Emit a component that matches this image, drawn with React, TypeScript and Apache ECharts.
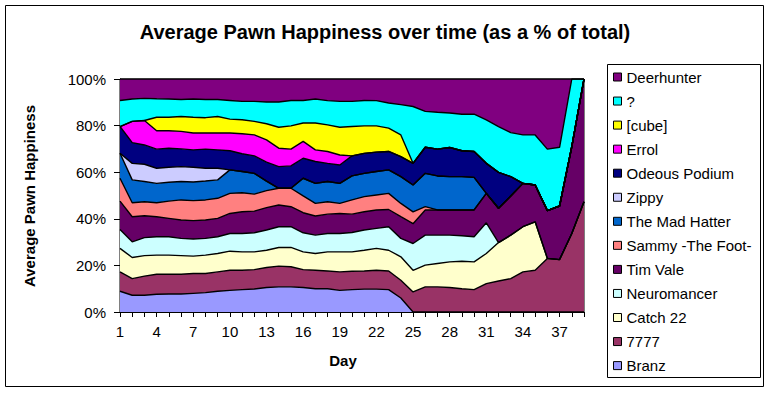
import React, { useEffect, useRef } from "react";
import * as echarts from "echarts";

const days = ["1","2","3","4","5","6","7","8","9","10","11","12","13","14","15","16","17","18","19","20","21","22","23","24","25","26","27","28","29","30","31","32","33","34","35","36","37","38","39"];

// Stacking order: bottom (Branz) to top (Deerhunter)
const seriesNames = ["Branz","7777","Catch 22","Neuromancer","Tim Vale","Sammy -The Foot-","The Mad Hatter","Zippy","Odeous Podium","Errol","[cube]","?","Deerhunter"];
const seriesColors = ["#9999FF","#993366","#FFFFCC","#CCFFFF","#660066","#FF8080","#0066CC","#CCCCFF","#000080","#FF00FF","#FFFF00","#00FFFF","#800080"];

const branz = [8.9,7.2,7.2,7.6,7.7,7.7,8.0,8.3,8.9,9.3,9.6,9.9,10.5,10.8,10.8,10.5,10.0,10.0,9.3,9.6,9.8,9.8,9.6,6.0,0,0,0,0,0,0,0,0,0,0,0,0,0,0,0];
const s7777 = [8.3,7.1,8.2,8.6,8.5,8.5,8.5,8.2,8.3,8.6,8.3,8.3,8.6,8.9,8.6,7.7,7.9,7.6,7.9,7.9,7.8,8.1,8.0,7.6,8.6,10.8,10.8,10.5,10.0,9.6,12.2,13.3,14.3,17.2,17.9,23.0,22.5,33.7,47.3];
const catch22 = [10.1,9.1,8.8,8.2,8.2,8.0,7.5,7.9,7.9,8.2,7.9,7.6,7.4,8.0,8.3,7.6,7.2,8.2,8.6,8.3,8.9,9.4,8.9,10.1,9.3,9.3,10.0,11.0,11.8,11.9,12.9,16.5,18.7,19.4,20.8,0,0,0,0];
const neuromancer = [8.1,6.7,7.7,7.9,7.9,7.4,7.3,7.2,7.2,7.6,7.9,8.2,8.7,8.9,8.9,8.2,7.9,7.9,7.9,8.3,8.7,8.6,10.1,7.9,11.5,12.9,12.2,11.5,10.9,10.8,13.2,0,0,0,0,0,0,0,0];
const timVale = [12.2,10.8,9.4,8.6,7.9,7.9,7.9,7.9,7.9,8.6,9.3,9.3,9.6,9.3,8.6,8.6,8.2,8.3,8.6,7.9,7.8,7.9,7.4,9.3,8.5,10.8,10.8,10.8,11.1,11.5,12.6,14.7,16.8,18.6,15.8,20.5,23.0,37.3,52.7];
const sammy = [9.8,6.0,6.0,6.0,7.4,8.6,8.6,8.6,8.6,8.6,8.2,7.3,7.3,7.2,7.9,7.2,5.4,5.3,4.3,6.1,6.5,6.4,6.9,5.7,5.1,1.4,0,0,0,0,0,0,0,0,0,0,0,0,0];
const madHatter = [10.7,9.8,8.7,8.3,8.1,7.9,8.0,8.1,7.9,10.1,9.1,8.9,4.1,0,0,7.6,8.6,8.7,8.6,10.3,10.0,10.1,10.1,11.5,11.5,14.3,14.6,14.3,14.3,14.0,0,0,0,0,0,0,0,0,0];
const zippy = [0,7.1,7.4,6.5,6.4,6.4,6.3,5.5,5.0,0,0,0,0,0,0,0,0,0,0,0,0,0,0,0,0,0,0,0,0,0,0,0,0,0,0,0,0,0,0];
const odeous = [11.5,8.9,8.3,8.2,8.2,7.6,7.5,8.2,7.9,8.2,7.6,7.5,8.1,9.3,9.6,8.6,9.4,7.8,7.9,8.6,8.6,8.3,7.9,8.6,9.3,11.2,11.5,12.5,11.1,11.1,12.9,15.4,8.3,0,0,0,0,0,0];
const errol = [0,9.1,10.5,7.9,7.5,7.5,7.2,6.9,7.2,7.6,8.6,9.0,9.6,7.9,7.2,7.2,5.0,5.1,4.3,0,0,0,0,0,0,0,0,0,0,0,0,0,0,0,0,0,0,0,0];
const cube = [0,0,0,5.8,5.8,6.4,6.8,6.6,7.1,6.0,6.0,5.8,6.9,9.0,10.0,7.9,11.5,11.4,11.9,12.6,11.8,11.3,10.0,9.3,0,0,0,0,0,0,0,0,0,0,0,0,0,0,0];
const question = [11.2,9.6,9.5,7.9,7.8,7.3,7.8,7.8,7.3,8.0,7.9,8.6,9.3,10.8,10.9,9.7,10.3,10.4,11.1,10.8,10.9,10.8,10.8,13.0,24.4,15.4,15.8,14.8,15.7,16.0,18.7,19.7,18.9,20.8,21.5,26.4,25.2,29.0,0];
const deerhunter = [9.2,8.6,8.3,8.5,8.6,8.8,8.6,8.8,8.8,9.2,9.6,9.6,9.9,9.9,9.2,9.2,8.6,9.3,9.6,9.6,9.2,9.3,10.3,11.0,11.8,13.9,14.3,14.6,15.1,15.1,17.5,20.4,23.0,24.0,24.0,30.1,29.3,0,0];

const seriesValues = [branz, s7777, catch22, neuromancer, timVale, sammy, madHatter, zippy, odeous, errol, cube, question, deerhunter];

const yTicks = [0, 20, 40, 60, 80, 100];

const FONT = "'Liberation Sans', Arial, sans-serif";

export default function App() {
  const ref = useRef<HTMLDivElement>(null);
  useEffect(() => {
    if (!ref.current) return;
    const chart = echarts.init(ref.current, null, { renderer: "svg" });
    const option: any = {
      animation: false,
      backgroundColor: "#ffffff",
      textStyle: { fontFamily: FONT },
      grid: {
        left: 120, right: 187, top: 79, bottom: 81,
        show: true, borderColor: "#000", borderWidth: 1, backgroundColor: "#fff",
      },
      xAxis: {
        type: "category",
        data: days,
        boundaryGap: false,
        axisLine: { show: true, lineStyle: { color: "#000", width: 1 } },
        axisTick: { show: true, interval: 0, length: 5, lineStyle: { color: "#000" } },
        axisLabel: { interval: 2, fontSize: 15, margin: 12, color: "#000", fontFamily: FONT },
        splitLine: { show: false },
      },
      yAxis: {
        type: "value",
        min: yTicks[0],
        max: yTicks[yTicks.length - 1],
        interval: 20,
        axisLine: { show: true, lineStyle: { color: "#000", width: 1 } },
        axisTick: { show: true, length: 6, lineStyle: { color: "#000" } },
        axisLabel: { formatter: "{value}%", fontSize: 15, margin: 14, color: "#000", fontFamily: FONT },
        splitLine: { show: false },
      },
      legend: {
        orient: "vertical",
        left: 613,
        top: 69,
        padding: 0,
        itemWidth: 8,
        itemHeight: 8,
        itemGap: 8.05,
        icon: "rect",
        selectedMode: false,
        data: seriesNames.slice().reverse(),
        itemStyle: { borderColor: "#000", borderWidth: 1 },
        textStyle: { fontSize: 15, lineHeight: 16, color: "#000", fontFamily: FONT },
      },
      graphic: [
        { type: "rect", shape: { x: 5.5, y: 5.5, width: 758, height: 381 }, style: { fill: "none", stroke: "#000", lineWidth: 1 }, z: 100 },
        { type: "rect", shape: { x: 607.5, y: 64.5, width: 153, height: 313 }, style: { fill: "none", stroke: "#000", lineWidth: 1 }, z: 100 },
        { type: "text", x: 385, y: 32, style: { text: "Average Pawn Happiness over time (as a % of total)", fontSize: 20, fontWeight: "bold", fontFamily: FONT, fill: "#000", align: "center", verticalAlign: "middle" } },
        { type: "text", x: 29, y: 196, rotation: Math.PI / 2, style: { text: "Average Pawn Happiness", fontSize: 15, fontWeight: "bold", fontFamily: FONT, fill: "#000", align: "center", verticalAlign: "middle" } },
        { type: "text", x: 343, y: 360, style: { text: "Day", fontSize: 15, fontWeight: "bold", fontFamily: FONT, fill: "#000", align: "center", verticalAlign: "middle" } },
      ],
      series: seriesNames.map((name, i) => ({
        name,
        type: "line",
        stack: "total",
        data: seriesValues[i],
        symbol: "none",
        showSymbol: false,
        silent: true,
        emphasis: { disabled: true },
        itemStyle: { color: seriesColors[i] },
        lineStyle: { color: "#000", width: 1.4 },
        areaStyle: { color: seriesColors[i], opacity: 1 },
      })),
    };
    chart.setOption(option);
    return () => chart.dispose();
  }, []);
  return (
    <div
      ref={ref}
      style={{ position: "fixed", left: 0, top: 0, width: 771, height: 393, background: "#fff" }}
    />
  );
}
